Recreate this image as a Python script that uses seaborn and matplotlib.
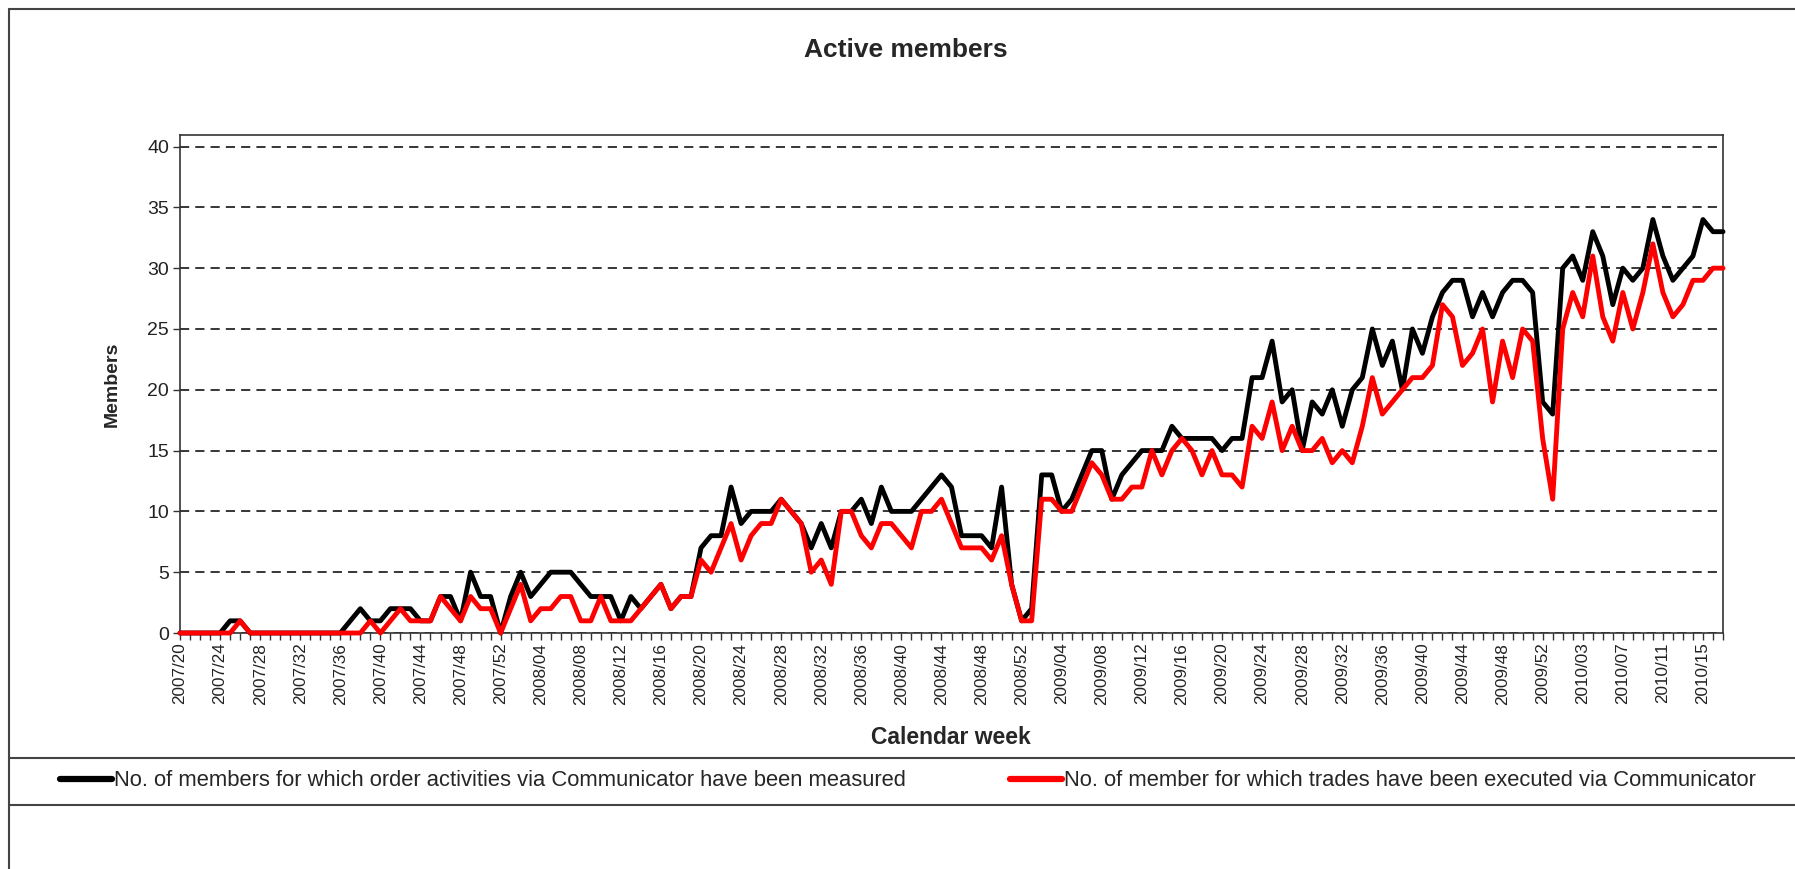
import matplotlib
matplotlib.use("Agg")
import matplotlib.pyplot as plt
import seaborn as sns
import pandas as pd
from matplotlib.lines import Line2D
from matplotlib.ticker import MultipleLocator


# calendar weeks 2007/20 .. 2010/17 (2009 has 53 weeks)
years = [2007, 2008, 2009, 2010]
first_week = [20, 1, 1, 1]
last_week = [52, 52, 53, 17]
weeks = [f"{y}/{w:02d}"
         for y, a, b in zip(years, first_week, last_week)
         for w in range(a, b + 1)]

label_orders = "No. of members for which order activities via Communicator have been measured"
label_trades = "No. of member for which trades have been executed via Communicator"

order_members = [
    0, 0, 0, 0, 0, 1, 1, 0, 0, 0,
    0, 0, 0, 0, 0, 0, 0, 1, 2, 1,
    1, 2, 2, 2, 1, 1, 3, 3, 1, 5,
    3, 3, 0, 3, 5, 3, 4, 5, 5, 5,
    4, 3, 3, 3, 1, 3, 2, 3, 4, 2,
    3, 3, 7, 8, 8, 12, 9, 10, 10, 10,
    11, 10, 9, 7, 9, 7, 10, 10, 11, 9,
    12, 10, 10, 10, 11, 12, 13, 12, 8, 8,
    8, 7, 12, 4, 1, 2, 13, 13, 10, 11,
    13, 15, 15, 11, 13, 14, 15, 15, 15, 17,
    16, 16, 16, 16, 15, 16, 16, 21, 21, 24,
    19, 20, 15, 19, 18, 20, 17, 20, 21, 25,
    22, 24, 20, 25, 23, 26, 28, 29, 29, 26,
    28, 26, 28, 29, 29, 28, 19, 18, 30, 31,
    29, 33, 31, 27, 30, 29, 30, 34, 31, 29,
    30, 31, 34, 33, 33,
]

trade_members = [
    0, 0, 0, 0, 0, 0, 1, 0, 0, 0,
    0, 0, 0, 0, 0, 0, 0, 0, 0, 1,
    0, 1, 2, 1, 1, 1, 3, 2, 1, 3,
    2, 2, 0, 2, 4, 1, 2, 2, 3, 3,
    1, 1, 3, 1, 1, 1, 2, 3, 4, 2,
    3, 3, 6, 5, 7, 9, 6, 8, 9, 9,
    11, 10, 9, 5, 6, 4, 10, 10, 8, 7,
    9, 9, 8, 7, 10, 10, 11, 9, 7, 7,
    7, 6, 8, 4, 1, 1, 11, 11, 10, 10,
    12, 14, 13, 11, 11, 12, 12, 15, 13, 15,
    16, 15, 13, 15, 13, 13, 12, 17, 16, 19,
    15, 17, 15, 15, 16, 14, 15, 14, 17, 21,
    18, 19, 20, 21, 21, 22, 27, 26, 22, 23,
    25, 19, 24, 21, 25, 24, 16, 11, 25, 28,
    26, 31, 26, 24, 28, 25, 28, 32, 28, 26,
    27, 29, 29, 30, 30,
]

n = len(weeks)
df = pd.DataFrame({
    "pos": list(range(n)) * 2,
    "members": order_members + trade_members,
    "series": [label_orders] * n + [label_trades] * n,
})

sns.set_style("white")
plt.rcParams["font.family"] = ["Liberation Sans", "DejaVu Sans"]

W, H = 1795, 869
fig = plt.figure(figsize=(W / 100, H / 100), dpi=100)
ax = fig.add_axes([180 / W, 1 - 633 / H, (1723 - 180) / W, (633 - 135) / H])

sns.lineplot(
    data=df, x="pos", y="members", hue="series",
    palette={label_orders: "black", label_trades: "#ff0000"},
    linewidth=3.5, legend=False, ax=ax, clip_on=False, zorder=3
)

ax.set_xlim(0, n - 1)
ax.set_ylim(0, 40.95)
ax.yaxis.set_major_locator(MultipleLocator(5))
ax.set_xticks(range(0, n, 4))
ax.set_xticklabels(weeks[::4], rotation=90, fontsize=12.3, color="#222")
ax.set_xticks(range(n), minor=True)
ax.tick_params(axis="x", which="both", direction="out", length=5, width=1,
               color="#333", bottom=True, pad=2)
ax.tick_params(axis="y", direction="out", length=5, width=1, color="#333",
               left=True, labelsize=14, labelcolor="#222", pad=3)
ax.set_xlabel("")
ax.set_ylabel("")

ax.yaxis.grid(True, linestyle=(0, (6, 4)), color="black", linewidth=1.1)
ax.xaxis.grid(False)
for sp in ax.spines.values():
    sp.set_color("#333")
    sp.set_linewidth(1.2)

fig.text(906 / W, 1 - 50 / H, "Active members", ha="center", va="center",
         fontsize=19, fontweight="bold")
fig.text(951 / W, 1 - 738 / H, "Calendar week", ha="center", va="center",
         fontsize=16.5, fontweight="bold")
fig.text(112 / W, 1 - 384 / H, "Members", ha="center", va="center",
         rotation=90, fontsize=14, fontweight="bold")

# chart frame and legend band
frame = dict(color="#444", linewidth=1.5, transform=fig.transFigure)
fig.add_artist(Line2D([9 / W, 9 / W], [0, 1 - 9 / H], **frame))
fig.add_artist(Line2D([9 / W, 1], [1 - 9 / H, 1 - 9 / H], **frame))
fig.add_artist(Line2D([9 / W, 1], [1 - 758 / H, 1 - 758 / H], **frame))
fig.add_artist(Line2D([9 / W, 1], [1 - 805 / H, 1 - 805 / H], **frame))

handles = [Line2D([], [], color="black", linewidth=4.5),
           Line2D([], [], color="#ff0000", linewidth=4.5)]
fig.legend(handles, [label_orders, label_trades], ncol=2, frameon=False,
           loc="center left", bbox_to_anchor=(60 / W, 1 - 781 / H),
           fontsize=15.85, handlelength=2.35, handletextpad=0.1,
           columnspacing=4.75, borderpad=0, borderaxespad=0)

fig.savefig("out.png", dpi=100)
